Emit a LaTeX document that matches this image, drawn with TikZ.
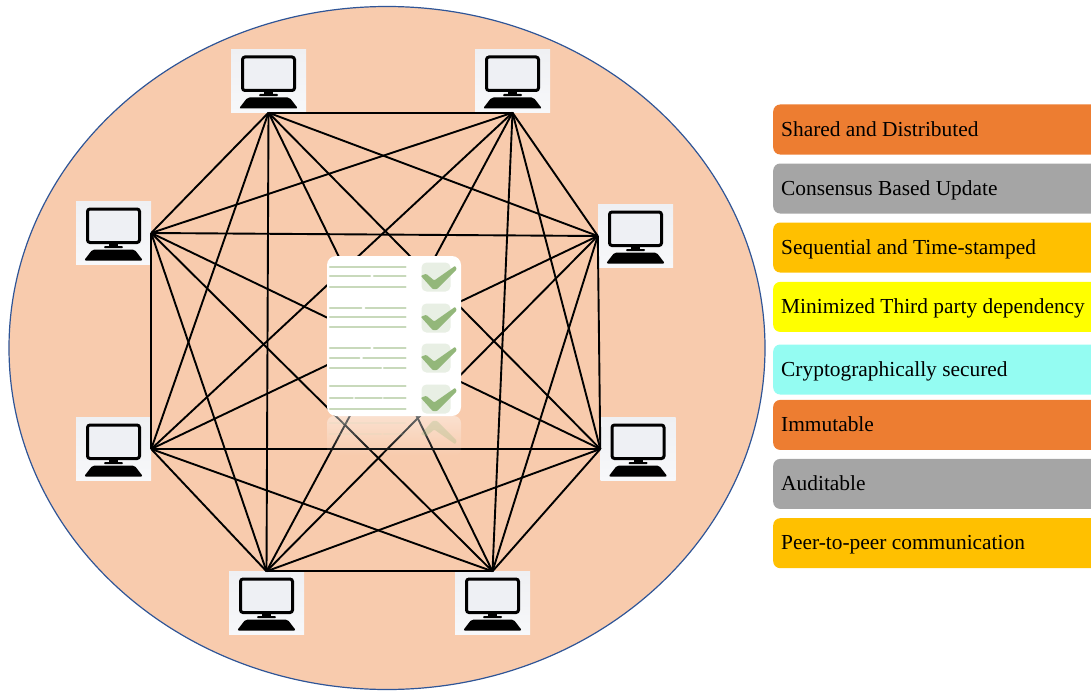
\documentclass[tikz,border=0pt]{standalone}
\usepackage{fontspec}
\setmainfont{Liberation Serif}
\usetikzlibrary{fadings}
\definecolor{peach}{HTML}{F8CBAD}
\definecolor{rim}{HTML}{2F5597}
\definecolor{orangebar}{HTML}{ED7D31}
\definecolor{graybar}{HTML}{A5A5A5}
\definecolor{goldbar}{HTML}{FFC000}
\definecolor{yellowbar}{HTML}{FFFF00}
\definecolor{aquabar}{HTML}{94FCF2}
\definecolor{cardline}{HTML}{C8D9BB}
\definecolor{checkgreen}{HTML}{93B77A}
\definecolor{checkback}{HTML}{E8EFE4}
\definecolor{screenfill}{HTML}{EEF0F4}
\definecolor{pctop}{HTML}{EFF0F3}
\definecolor{pcbot}{HTML}{F7F8FA}
\tikzset{
  pcbox/.style={rectangle,minimum width=75pt,minimum height=63pt,inner sep=0pt,top color=pctop,bottom color=pcbot},
  edge/.style={draw=black,line width=1.9pt},
  barbox/.style={rectangle,rounded corners=7pt,minimum width=332pt,minimum height=50pt,
    text width=316pt,align=flush left,inner xsep=8pt,inner ysep=0pt,anchor=north west,
    text height=18pt,text depth=5pt,font=\fontsize{21.4}{25}\selectfont,text=black},
  cardbox/.style={rectangle,rounded corners=9pt,fill=white,minimum width=134pt,minimum height=160pt,inner sep=0pt},
  cline/.style={draw=cardline,line width=2.2pt,line cap=round},
  pics/computer/.style={code={
    \draw[black,fill=screenfill,line width=3pt,rounded corners=2.5pt] (-26,-24) rectangle (26,9.5);
    \fill[black] (-4.5,10) rectangle (4.5,14);
    \fill[black,rounded corners=1pt] (-9.5,13) rectangle (9.5,15.2);
    \fill[black,rounded corners=2pt] (-21,16.5) -- (21,16.5) -- (29.5,27.5) -- (-29.5,27.5) -- cycle;
  }},
  pics/tick/.style={code={
    \fill[checkback,rounded corners=5pt] (-14.5,-14.5) rectangle (14.5,14.5);
    \fill[checkgreen,rounded corners=1pt] (-15.2,-1.2) -- (-9.8,-3.2) -- (-1.8,3.5) -- (19.2,-11.2) -- (20.8,-7.8) -- (0.8,12.2) -- (-3.2,12.2) -- cycle;
  }}
}
\newcommand{\cardrow}[3]{\draw[cline] (#1,#3) -- (#2,#3);}
\begin{document}
\begin{tikzpicture}[x=1pt,y=-1pt]
\useasboundingbox (0,0) rectangle (1091,690);
% big disc
\node[draw=none,fill=none,inner sep=0pt] (discc) at (387,348) {};
\fill[peach,draw=rim,line width=1.2pt] (discc) ellipse [x radius=378pt,y radius=341.5pt];
% computers
\node[pcbox] (a) at (268.5,81) {};
\node[pcbox] (b) at (512.5,81) {};
\node[pcbox] (c) at (635.5,236) {};
\node[pcbox] (d) at (638,449) {};
\node[pcbox] (e) at (492.5,603) {};
\node[pcbox] (f) at (266.5,603) {};
\node[pcbox] (g) at (113.5,449) {};
\node[pcbox] (h) at (113.5,233) {};
\foreach \n in {a,b,c,d,e,f,g,h} \pic at (\n) {computer};
% mesh
\foreach \p/\q in {
  a.south/b.south,a.south/c.west,a.south/d.west,a.south/e.north,a.south/f.north,a.south/g.east,a.south/h.east,
  b.south/c.west,b.south/d.west,b.south/e.north,b.south/f.north,b.south/g.east,b.south/h.east,
  c.west/d.west,c.west/e.north,c.west/f.north,c.west/g.east,c.west/h.east,
  d.west/e.north,d.west/f.north,d.west/g.east,d.west/h.east,
  e.north/f.north,e.north/g.east,e.north/h.east,
  f.north/g.east,f.north/h.east,
  g.east/h.east}
  \draw[edge] (\p) -- (\q);
% reflection
\fill[white,opacity=.42,path fading=south,rounded corners=7pt] (327,416) rectangle (461,456);
\begin{scope}[opacity=.16]
  \draw[cline] (330,423) -- (405,423);
  \draw[cline] (330,434) -- (352,434);
  \draw[cline] (355,434) -- (381,434);
  \draw[cline] (384,434) -- (405,434);
\end{scope}
\begin{scope}
  \clip (420,416) rectangle (460,448);
  \fill[checkgreen,opacity=.28,rounded corners=1pt] (420.8,434.2) -- (426.2,436.2) -- (434.2,429.5) -- (455.2,444.2) -- (456.8,440.8) -- (436.8,420.8) -- (432.8,420.8) -- cycle;
\end{scope}
% card
\node[cardbox] (card) at (394,336) {};
\cardrow{330}{405.5}{267.3}
\cardrow{330}{370}{276.3}\cardrow{374}{405.5}{276.3}
\cardrow{330}{405.5}{286.7}
\cardrow{330}{361.3}{307.7}\cardrow{365.7}{405.5}{307.7}
\cardrow{330}{405.5}{317.3}
\cardrow{330}{405.5}{327.3}
\cardrow{330}{370}{348.3}\cardrow{374}{405.5}{348.3}
\cardrow{330}{359.3}{357.7}\cardrow{363.3}{405.5}{357.7}
\cardrow{330}{381}{367.7}\cardrow{384}{405.5}{367.7}
\cardrow{330}{405.5}{386.3}
\cardrow{330}{352.7}{398}\cardrow{355.3}{381.7}{398}\cardrow{384}{405.5}{398}
\cardrow{330}{405.5}{408.7}
\pic at (436,277) {tick};
\pic at (436,318) {tick};
\pic at (436,358) {tick};
\pic at (436,399) {tick};
% legend bars
\begin{scope}
\clip (770,100) rectangle (1091,572);
\node[barbox,fill=orangebar] (b1) at (773,104.3) {Shared and Distributed};
\node[barbox,fill=graybar]   (b2) at (773,163.3) {Consensus Based Update};
\node[barbox,fill=goldbar]   (b3) at (773,222.3) {Sequential and Time-stamped};
\node[barbox,fill=yellowbar] (b4) at (773,281.7) {Minimized Third party dependency};
\node[barbox,fill=aquabar]   (b5) at (773,344.3) {Cryptographically secured};
\node[barbox,fill=orangebar] (b6) at (773,399.7) {Immutable};
\node[barbox,fill=graybar]   (b7) at (773,458.7) {Auditable};
\node[barbox,fill=goldbar]   (b8) at (773,518) {Peer-to-peer communication};
\end{scope}
\end{tikzpicture}
\end{document}
